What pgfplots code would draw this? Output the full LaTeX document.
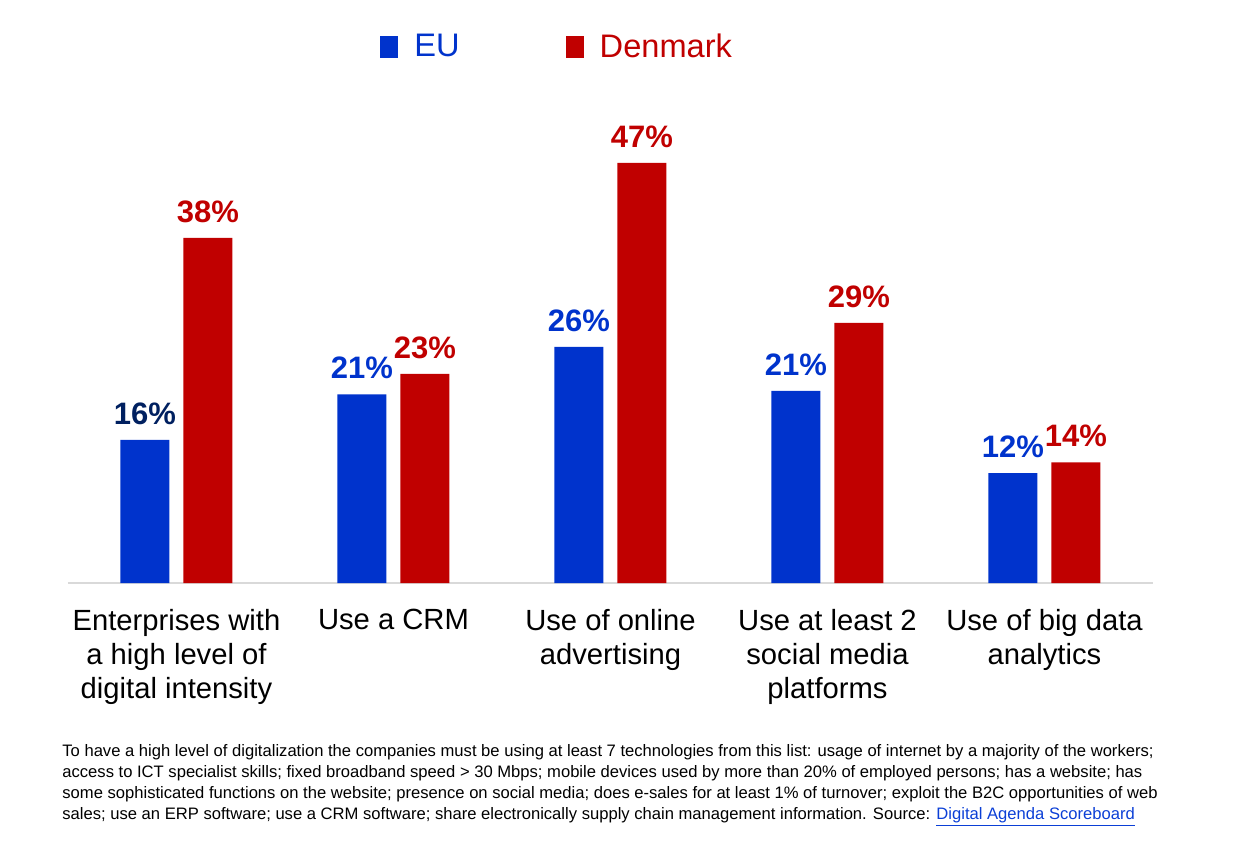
\documentclass[border=0pt]{standalone}
\usepackage{pgfplots}
\pgfplotsset{compat=1.18}
\usepackage{fontspec}
\setmainfont{Liberation Sans}
\definecolor{eublue}{HTML}{0033CC}
\definecolor{dkred}{HTML}{C00000}
\definecolor{navy}{HTML}{002060}
\definecolor{linkblue}{HTML}{0B3FD6}
\definecolor{axgray}{HTML}{D9D9D9}
\begin{document}
\begin{tikzpicture}
\path[use as bounding box] (0pt,0pt) rectangle (622pt,421pt);
\begin{axis}[
  at={(34pt,129.5pt)}, anchor=south west,
  scale only axis, width=542.5pt, height=223.5pt,
  xmin=-0.5, xmax=4.5, ymin=0, ymax=50,
  ybar=7pt, bar width=24.5pt,
  axis y line=none,
  axis x line*=bottom,
  x axis line style={draw=axgray, line width=0.8pt, -},
  xtick={0,1,2,3,4},
  xticklabels={{Enterprises with\\a high level of\\digital intensity},{Use a CRM},{Use of online\\advertising},{Use at least 2\\social media\\platforms},{Use of big data\\analytics}},
  xticklabel style={align=center, font=\fontsize{14.6}{17}\selectfont, text=black, yshift=-9.5pt},
  major tick length=0pt,
  point meta=explicit symbolic,
  nodes near coords,
  nodes near coords style={font=\fontsize{15.5}{18}\bfseries\selectfont, anchor=south, inner sep=2.5pt, yshift=5pt},
  legend style={at={(axis description cs:0.2876,1)}, anchor=west, yshift=44.5pt, draw=none, fill=none,
    legend columns=2, inner sep=0pt, font=\fontsize{16.3}{19}\selectfont,
    /tikz/every even column/.append style={column sep=51pt}},
  clip=false,
]
\addplot[fill=eublue, draw=none, nodes near coords style={text=eublue},
  legend image code/.code={\fill[eublue] (0pt,-5.5pt) rectangle (9pt,5.5pt);}]
  coordinates {(0,16) [\textcolor{navy}{16\%}] (1,21.1) [21\%] (2,26.4) [26\%] (3,21.5) [21\%] (4,12.3) [12\%]};
\addlegendentry{\hspace{6pt}\textcolor{eublue}{EU}}
\addplot[fill=dkred, draw=none, nodes near coords style={text=dkred},
  legend image code/.code={\fill[dkred] (0pt,-5.5pt) rectangle (9pt,5.5pt);}]
  coordinates {(0,38.6) [38\%] (1,23.4) [23\%] (2,47) [47\%] (3,29.1) [29\%] (4,13.5) [14\%]};
\addlegendentry{\hspace{6pt}\textcolor{dkred}{Denmark}}
\end{axis}
\node[anchor=north west, align=left, inner sep=0pt, font=\fontsize{8.3}{10.5}\selectfont] at (31pt,49pt)
{To have a high level of digitalization the companies must be using at least 7 technologies from this list: usage of internet by a majority of the workers;\\
access to ICT specialist skills; fixed broadband speed > 30 Mbps; mobile devices used by more than 20\% of employed persons; has a website; has\\
some sophisticated functions on the website; presence on social media; does e-sales for at least 1\% of turnover; exploit the B2C opportunities of web\\
sales; use an ERP software; use a CRM software; share electronically supply chain management information. Source: \textcolor{linkblue}{\underline{Digital Agenda Scoreboard}}};
\end{tikzpicture}
\end{document}
